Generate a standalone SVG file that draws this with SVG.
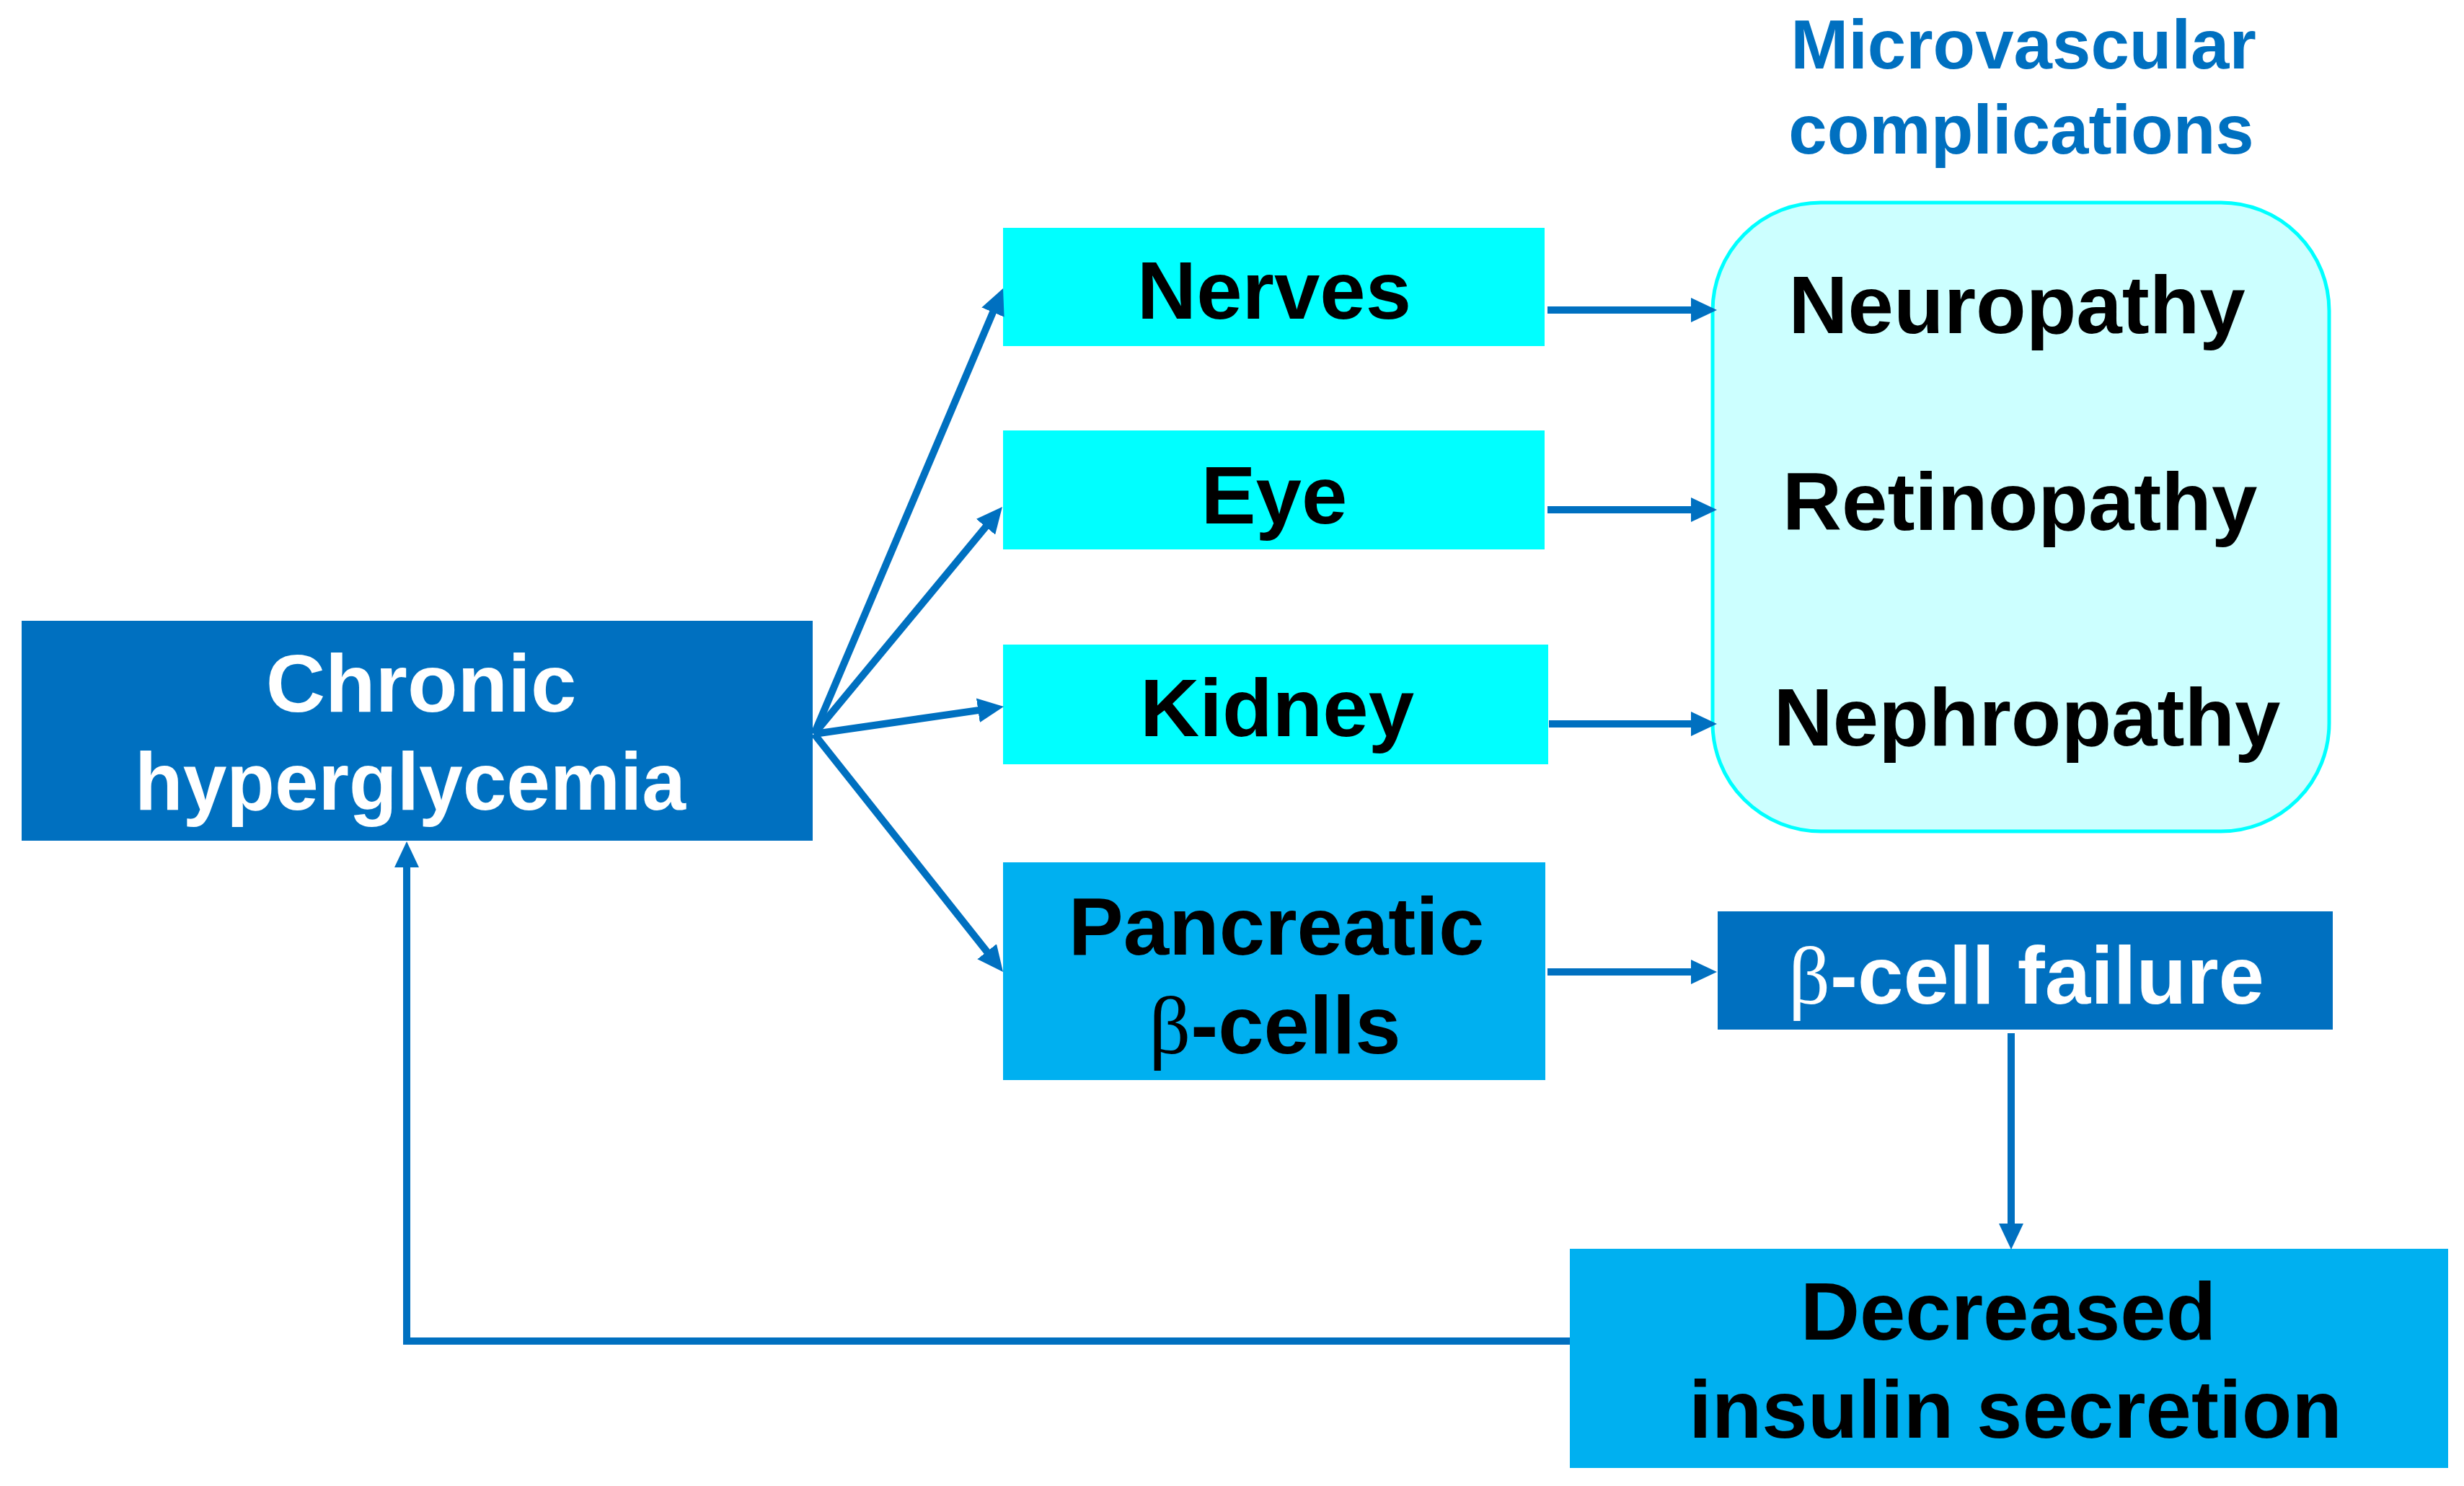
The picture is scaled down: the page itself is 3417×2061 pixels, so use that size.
<svg xmlns="http://www.w3.org/2000/svg" width="3417" height="2061" viewBox="0 0 3417 2061">
<style>
.t{font-family:"Liberation Sans",Arial,sans-serif;font-weight:bold;font-size:114px;text-anchor:middle;fill:#000}
.w{fill:#fff}
.b{fill:#0070C0}
.g{font-family:"Liberation Serif","Times New Roman",serif;font-weight:normal}
.c{fill:none;stroke:#0070C0;stroke-width:10;marker-end:url(#ah)}
</style>
<defs>
<marker id="ah" markerUnits="userSpaceOnUse" markerWidth="36" markerHeight="34" refX="16" refY="17" orient="auto">
<path d="M0,0 L36,17 L0,34 z" fill="#0070C0"/>
</marker>
</defs>
<rect width="3417" height="2061" fill="#fff"/>
<g id="title">
<text class="t b" style="font-size:96px" x="2806" y="95">Microvascular</text>
<text class="t b" style="font-size:96px" x="2803" y="213">complications</text>
</g>
<g id="chronic">
<rect x="30" y="861" width="1097" height="305" fill="#0070C0"/>
<text class="t w" x="584" y="987">Chronic</text>
<text class="t w" x="569" y="1123" textLength="764" lengthAdjust="spacingAndGlyphs">hyperglycemia</text>
</g>
<g id="nerves">
<rect x="1391" y="316" width="751" height="164" fill="#00FFFF"/>
<text class="t" x="1767" y="442">Nerves</text>
</g>
<g id="eye">
<rect x="1391" y="597" width="751" height="165" fill="#00FFFF"/>
<text class="t" x="1767" y="726">Eye</text>
</g>
<g id="kidney">
<rect x="1391" y="894" width="756" height="166" fill="#00FFFF"/>
<text class="t" x="1771" y="1021">Kidney</text>
</g>
<g id="pancreatic">
<rect x="1391" y="1196" width="752" height="302" fill="#00B0F0"/>
<text class="t" x="1770" y="1324">Pancreatic</text>
<text class="t" x="1768" y="1461"><tspan class="g">β</tspan>-cells</text>
</g>
<g id="complications">
<rect x="2375" y="281" width="855" height="872" rx="150" ry="150" fill="#CCFFFF" stroke="#00FFFF" stroke-width="5"/>
<text class="t" x="2797" y="462">Neuropathy</text>
<text class="t" x="2801" y="735">Retinopathy</text>
<text class="t" x="2811" y="1034">Nephropathy</text>
</g>
<g id="betafail">
<rect x="2382" y="1264" width="853" height="164" fill="#0070C0"/>
<text class="t w" x="2810" y="1392"><tspan class="g">β</tspan>-cell failure</text>
</g>
<g id="decreased">
<rect x="2177" y="1732" width="1218" height="304" fill="#00B0F0"/>
<text class="t" x="2785" y="1858">Decreased</text>
<text class="t" x="2795" y="1994">insulin secretion</text>
</g>
<g id="connectors">
<path class="c" d="M1129,1018 L1383.2,418.4"/>
<path class="c" d="M1129,1018 L1377.2,718.4"/>
<path class="c" d="M1129,1018 L1372.2,982.9"/>
<path class="c" d="M1129,1018 L1378.6,1332.3"/>
<path class="c" d="M2146,430 L2361,430"/>
<path class="c" d="M2146,707 L2361,707"/>
<path class="c" d="M2148,1004 L2361,1004"/>
<path class="c" d="M2146,1348 L2361,1348"/>
<path class="c" d="M2789,1433 L2789,1713"/>
<path class="c" d="M2177,1860 L564,1860 L564,1187"/>
</g>
</svg>
